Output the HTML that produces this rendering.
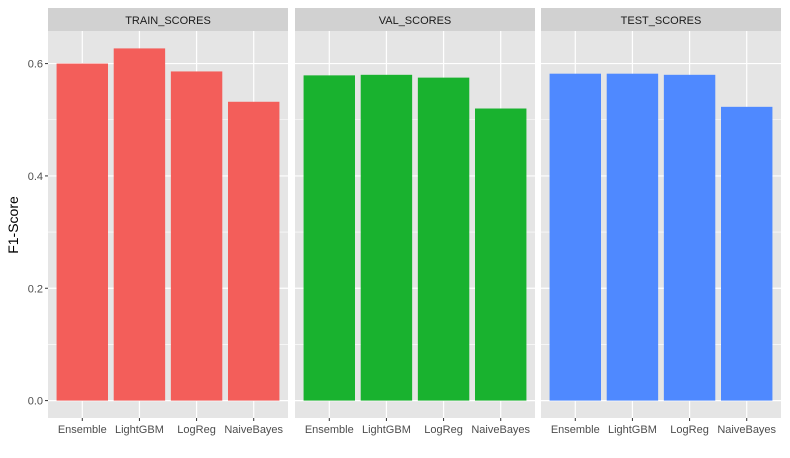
<!DOCTYPE html>
<html><head><meta charset="utf-8"><style>
body{margin:0;background:#fff;}
svg{display:block;font-family:"Liberation Sans",Arial,sans-serif;}
</style></head><body>
<svg id="chart" width="790" height="458"></svg>
<script>
const categories=["Ensemble","LightGBM","LogReg","NaiveBayes"];
const facets=["TRAIN_SCORES","VAL_SCORES","TEST_SCORES"];
const trainValues=[0.600,0.627,0.586,0.532];
const valValues=[0.579,0.580,0.575,0.520];
const testValues=[0.582,0.582,0.580,0.523];
const yTicks=[0,0.2,0.4,0.6];
const yTickLabels=["0.0","0.2","0.4","0.6"];
const yMinor=[0.1,0.3,0.5];
const colors=["#F35E5A","#19B22F","#4F89FF"];
const series=[trainValues,valValues,testValues];

const NS="http://www.w3.org/2000/svg";
const svg=document.getElementById("chart");
function mk(t,a,p){const e=document.createElementNS(NS,t);for(const k in a)e.setAttribute(k,a[k]);(p||svg).appendChild(e);return e;}
const panelX=[48,295,541],panelW=240,plotTop=31,plotBottom=418;
const yMax=0.658,yMinV=-0.031;
function y(v){return plotBottom-(v-yMinV)/(yMax-yMinV)*(plotBottom-plotTop);}
const unit=panelW/4.2;
function xc(p,i){return panelX[p]+(0.6+i)*unit;}

facets.forEach((f,p)=>{
  const g=mk("g",{});
  
  
  mk("rect",{x:panelX[p],y:plotTop,width:panelW,height:plotBottom-plotTop,fill:"#E5E5E5"},g);
  yMinor.forEach(v=>mk("line",{x1:panelX[p],x2:panelX[p]+panelW,y1:y(v),y2:y(v),stroke:"#fff","stroke-width":0.6},g));
  yTicks.forEach(v=>mk("line",{x1:panelX[p],x2:panelX[p]+panelW,y1:y(v),y2:y(v),stroke:"#fff","stroke-width":1.2},g));
  categories.forEach((c,i)=>mk("line",{x1:xc(p,i),x2:xc(p,i),y1:plotTop,y2:plotBottom,stroke:"#fff","stroke-width":1.2},g));
  series[p].forEach((v,i)=>{
    const r=mk("rect",{x:xc(p,i)-0.45*unit,width:0.9*unit,y:y(v),height:y(0)-y(v),fill:colors[p]},g);
    
    
  });
  const s=mk("rect",{x:panelX[p],y:8,width:panelW,height:23,fill:"#D1D1D1"},g);
  
  
  const st=mk("text",{x:panelX[p]+panelW/2,y:24,"text-anchor":"middle","font-size":11,fill:"#1A1A1A"},g);
  st.textContent=f;
  
  
  categories.forEach((c,i)=>{
    mk("line",{x1:xc(p,i),x2:xc(p,i),y1:plotBottom,y2:plotBottom+3,stroke:"#333","stroke-width":1},g);
    const t=mk("text",{x:xc(p,i),y:433,"text-anchor":"middle","font-size":11,fill:"#4D4D4D"},g);
    t.textContent=c;
    
    
  });
});
yTicks.forEach((v,i)=>{
  mk("line",{x1:45,x2:48,y1:y(v),y2:y(v),stroke:"#333","stroke-width":1});
  const t=mk("text",{x:43,y:y(v)+4,"text-anchor":"end","font-size":11,fill:"#4D4D4D"});
  t.textContent=yTickLabels[i];
  
  
});
const yt=mk("text",{x:0,y:0,"text-anchor":"middle","font-size":14,fill:"#000",transform:"translate(18,225) rotate(-90)"});
yt.textContent="F1-Score";


</script>
</body></html>
